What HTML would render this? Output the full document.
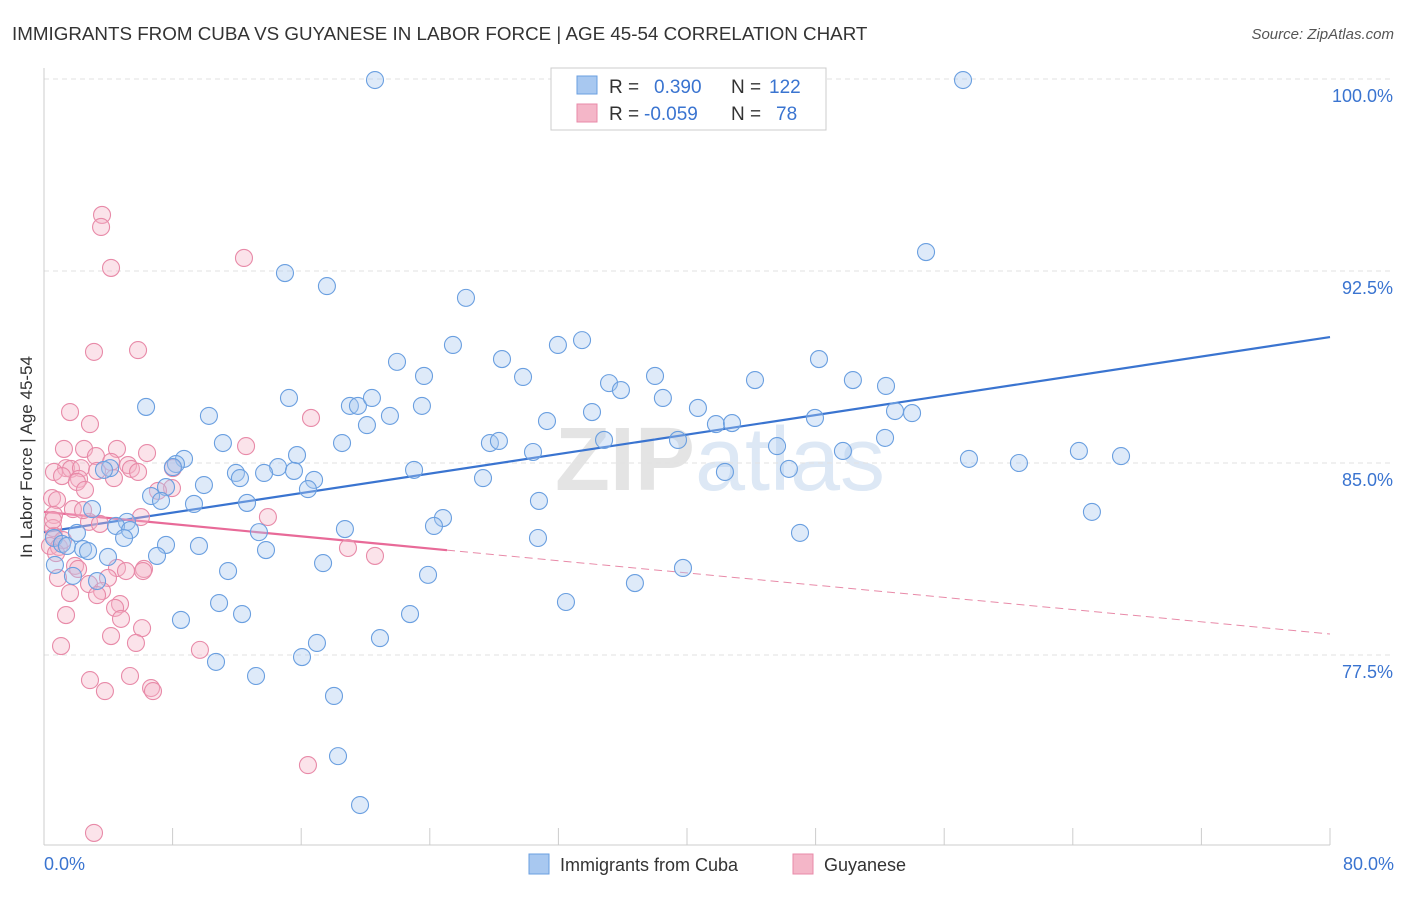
<!DOCTYPE html>
<html><head><meta charset="utf-8"><style>
body{margin:0;background:#fff;font-family:"Liberation Sans",sans-serif}
svg text{font-family:"Liberation Sans",sans-serif}
</style></head><body>
<svg id="chart" width="1406" height="892" xmlns="http://www.w3.org/2000/svg">
<text x="12" y="40" font-size="18.8" fill="#333">IMMIGRANTS FROM CUBA VS GUYANESE IN LABOR FORCE | AGE 45-54 CORRELATION CHART</text>
<text x="1394" y="39" font-size="15" fill="#555" text-anchor="end" font-style="italic">Source: ZipAtlas.com</text>
<text x="720" y="490" font-size="90" fill="#e4e4e4" text-anchor="middle" font-family="Liberation Serif" font-weight="bold">ZIP<tspan font-family="Liberation Sans" font-weight="normal" fill="#dde8f5">atlas</tspan></text>
<g id="grid"></g><g id="axes"></g><g id="lines"></g><g id="pts"></g>
<text x="32" y="457" font-size="17" fill="#333" text-anchor="middle" transform="rotate(-90 32 457)">In Labor Force | Age 45-54</text>
<g>
<rect x="551" y="68" width="275" height="62" fill="#fff" stroke="#ccc"/>
<rect x="577" y="76" width="20" height="18" fill="#a8c8f0" stroke="#6a9fe0"/>
<rect x="577" y="104" width="20" height="18" fill="#f4b6c8" stroke="#e88aa8"/>
<text x="609" y="93" font-size="19" fill="#333">R =</text><text x="654" y="93" font-size="19" fill="#3a74d0">0.390</text>
<text x="731" y="93" font-size="19" fill="#333">N =</text><text x="769" y="93" font-size="19" fill="#3a74d0">122</text>
<text x="609" y="120" font-size="19" fill="#333">R =</text><text x="644" y="120" font-size="19" fill="#3a74d0">-0.059</text>
<text x="731" y="120" font-size="19" fill="#333">N =</text><text x="776" y="120" font-size="19" fill="#3a74d0">78</text>
</g>
<g>
<rect x="529" y="854" width="20" height="20" fill="#a8c8f0" stroke="#6a9fe0"/>
<text x="560" y="871" font-size="18" fill="#333">Immigrants from Cuba</text>
<rect x="793" y="854" width="20" height="20" fill="#f4b6c8" stroke="#e88aa8"/>
<text x="824" y="871" font-size="18" fill="#333">Guyanese</text>
</g>
</svg>
<script>
const yTicks=[77.5,85,92.5,100];
const yTickLabels=["77.5%","85.0%","92.5%","100.0%"];
const xTickLabels=["0.0%","80.0%"];
const cubaX=[20.59,57.17,54.87,14.99,17.60,26.25,33.47,31.97,25.44,21.96,28.49,48.21,23.64,29.80,38.01,50.32,44.23,35.15,35.89,52.38,15.24,38.50,6.35,19.03,19.53,20.40,23.51,40.68,10.26,21.52,34.09,31.29,47.96,52.94,54.00,20.09,41.80,42.80,52.32,11.13,18.54,27.74,28.30,34.84,39.44,45.60,49.70,30.42,15.74,8.71,8.21,8.02,57.54,64.38,67.00,60.65,14.56,15.55,13.69,11.94,23.02,42.36,46.34,12.19,16.80,9.95,16.42,7.59,4.11,3.73,6.66,7.28,9.33,12.63,27.31,30.79,65.19,2.99,5.16,4.48,5.35,4.98,13.37,18.72,24.82,24.26,47.03,30.73,2.05,0.62,1.12,1.43,2.43,2.74,7.59,9.64,3.98,7.03,13.81,0.68,17.36,1.80,3.30,11.45,23.89,36.76,39.75,32.47,10.89,22.77,12.32,8.52,20.90,16.98,16.05,10.70,13.19,18.04,18.29,19.66];
const cubaY=[99.96,99.96,93.24,92.42,91.91,91.45,89.80,89.61,89.61,88.95,89.06,89.06,88.40,88.36,88.40,88.24,88.24,88.12,87.85,88.01,87.54,87.54,87.19,87.23,87.23,87.54,87.23,87.15,86.84,86.84,86.99,86.64,86.76,87.03,86.95,86.48,86.52,86.56,85.98,85.78,85.78,85.78,85.86,85.90,85.90,85.66,85.47,85.43,85.31,85.16,84.96,84.84,85.16,85.47,85.27,85.00,84.84,84.69,84.61,84.61,84.73,84.65,84.77,84.41,84.34,84.14,83.98,84.06,84.80,84.73,83.71,83.52,83.40,83.44,84.41,83.52,83.09,83.20,82.70,82.54,82.38,82.07,82.30,82.42,82.85,82.54,82.27,82.07,82.27,82.07,81.84,81.76,81.64,81.56,81.80,81.76,81.33,81.37,81.60,81.02,81.09,80.59,80.39,80.78,80.63,80.31,80.90,79.57,79.53,79.10,79.10,78.87,78.16,77.97,77.42,77.23,76.68,75.90,73.55,71.64];
const guyX=[3.61,3.55,4.17,12.44,3.11,5.85,1.62,2.86,16.61,1.24,2.49,3.23,4.54,6.41,12.57,4.17,5.23,5.41,1.37,1.68,2.30,0.62,1.12,2.18,2.05,3.30,4.35,8.02,5.85,0.50,0.81,2.55,7.96,7.09,1.80,0.62,2.80,3.48,6.03,13.93,0.56,0.62,0.37,0.93,1.93,2.12,4.54,5.10,6.22,6.16,3.98,0.87,2.80,3.61,3.30,1.62,4.73,4.42,1.37,4.79,6.10,4.17,5.72,1.06,9.70,2.86,5.35,3.79,6.66,6.78,18.91,20.59,16.42,3.11,1.18,0.75,0.56,2.43];
const guyY=[94.69,94.22,92.62,93.01,89.34,89.41,86.99,86.52,86.76,85.55,85.55,85.27,85.55,85.39,85.66,85.04,84.92,84.77,84.80,84.77,84.80,84.65,84.49,84.38,84.26,84.69,84.41,84.80,84.65,83.63,83.55,83.95,84.02,83.91,83.20,82.97,82.70,82.62,82.89,82.89,82.46,82.15,81.76,81.72,80.98,80.86,80.90,80.78,80.86,80.78,80.51,80.51,80.27,80.00,79.84,79.92,79.49,79.34,79.06,78.91,78.55,78.24,77.97,77.85,77.70,76.52,76.68,76.09,76.21,76.09,81.68,81.37,73.20,70.55,81.99,81.48,82.77,83.16];
const cubaTrend=[82.30,89.92];
const guyTrend=[83.09,78.32];
const guySolidEnd=25.07;
const NS="http://www.w3.org/2000/svg";
const X=v=>44+v/80*1286, Y=v=>79+(100-v)*25.6;
function mk(tag,attrs,parent){const e=document.createElementNS(NS,tag);for(const k in attrs)e.setAttribute(k,attrs[k]);document.getElementById(parent).appendChild(e);return e;}
yTicks.forEach((t,i)=>{
 const g=mk('line',{x1:44,x2:1394,y1:Y(t),y2:Y(t),stroke:'#e2e2e2','stroke-dasharray':'5,4'},'grid');
 
 
 const l=mk('text',{x:1393,y:Y(t)+23,'font-size':18,fill:'#3a74d0','text-anchor':'end'},'grid');
 l.textContent=yTickLabels[i];
 
 
});
const xa=mk('line',{x1:44,x2:1330,y1:845,y2:845,stroke:'#ccc'},'axes');


const ya=mk('line',{x1:44,x2:44,y1:68,y2:845,stroke:'#ccc'},'axes');


for(let i=0;i<=10;i++){const t=mk('line',{x1:X(i*8),x2:X(i*8),y1:828,y2:845,stroke:'#ccc'},'axes');
 
 }
[[0,'start',44],[80,'end',1394]].forEach((d,i)=>{const t=mk('text',{x:d[2],y:870,'font-size':18,fill:'#3a74d0','text-anchor':d[1]},'axes');t.textContent=xTickLabels[i];
 
 });
function pts(xs,ys,fill,stroke,name){xs.forEach((x,i)=>{const c=mk('circle',{cx:X(x),cy:Y(ys[i]),r:8.5,fill:fill,'fill-opacity':0.38,stroke:stroke,'stroke-width':1.1},'pts');
 
 });}
pts(guyX,guyY,'#f4b6c8','#e88aa8','guyanese-point');
pts(cubaX,cubaY,'#a8c8f0','#6a9fe0','cuba-point');
const bl=mk('line',{x1:X(0),y1:Y(cubaTrend[0]),x2:X(80),y2:Y(cubaTrend[1]),stroke:'#3a74d0','stroke-width':2.2},'lines');


const gy=v=>guyTrend[0]+(guyTrend[1]-guyTrend[0])*v/80;
const p1=mk('line',{x1:X(0),y1:Y(gy(0)),x2:X(guySolidEnd),y2:Y(gy(guySolidEnd)),stroke:'#e86a98','stroke-width':2.2},'lines');


const p2=mk('line',{x1:X(guySolidEnd),y1:Y(gy(guySolidEnd)),x2:X(80),y2:Y(gy(80)),stroke:'#e88aa8','stroke-width':1,'stroke-dasharray':'8,5'},'lines');


</script>
</body></html>
